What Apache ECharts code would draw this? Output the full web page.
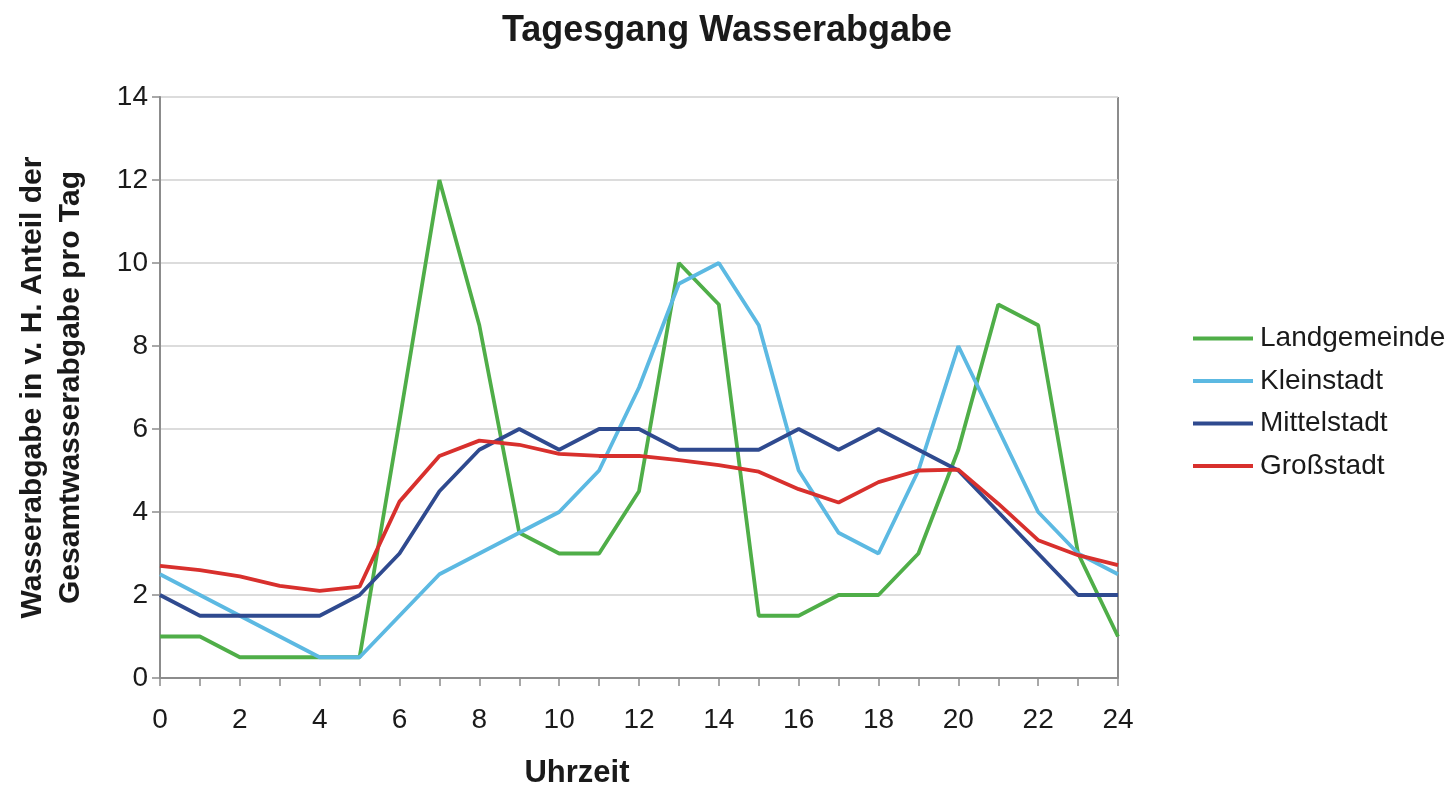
<!DOCTYPE html>
<html>
<head>
<meta charset="utf-8">
<script src="https://cdn.jsdelivr.net/npm/echarts@6/dist/echarts.min.js"></script>
<style>
  html, body { margin: 0; padding: 0; background: #fff; }
  #chart { width: 1456px; height: 785px; }
</style>
</head>
<body>
<div id="chart"></div>
<script>
// Stunden 0..24
const hours = [0, 1, 2, 3, 4, 5, 6, 7, 8, 9, 10, 11, 12, 13, 14, 15, 16, 17, 18, 19, 20, 21, 22, 23, 24];
const landgemeinde = [1, 1, 0.5, 0.5, 0.5, 0.5, 6.2, 12, 8.5, 3.5, 3, 3, 4.5, 10, 9, 1.5, 1.5, 2, 2, 3, 5.5, 9, 8.5, 3, 1];
const kleinstadt = [2.5, 2, 1.5, 1, 0.5, 0.5, 1.5, 2.5, 3, 3.5, 4, 5, 7, 9.5, 10, 8.5, 5, 3.5, 3, 5, 8, 6, 4, 3, 2.5];
const mittelstadt = [2, 1.5, 1.5, 1.5, 1.5, 2, 3, 4.5, 5.5, 6, 5.5, 6, 6, 5.5, 5.5, 5.5, 6, 5.5, 6, 5.5, 5, 4, 3, 2, 2];
const grossstadt = [2.7, 2.6, 2.45, 2.22, 2.1, 2.2, 4.25, 5.35, 5.72, 5.62, 5.4, 5.35, 5.35, 5.25, 5.13, 4.97, 4.55, 4.23, 4.72, 5.0, 5.02, 4.2, 3.32, 2.96, 2.72];

const seriesNames = ["Landgemeinde", "Kleinstadt", "Mittelstadt", "Großstadt"];
const seriesColors = ["#4fae48", "#5cb9e2", "#2f4a8f", "#d8302d"];
const seriesData = [landgemeinde, kleinstadt, mittelstadt, grossstadt];

const font = "Liberation Sans, Arial, sans-serif";

const chart = echarts.init(document.getElementById("chart"));
chart.setOption({
  animation: false,
  title: {
    text: "Tagesgang Wasserabgabe",
    left: 722,
    textAlign: "center",
    top: 8,
    textStyle: { fontFamily: font, fontSize: 36, fontWeight: "bold", color: "#1a1a1a" }
  },
  legend: {
    orient: "vertical",
    left: 1188,
    top: 318,
    itemWidth: 60,
    itemHeight: 4,
    itemGap: 11.5,
    icon: "rect",
    data: seriesNames,
    textStyle: { fontFamily: font, fontSize: 28, lineHeight: 31, color: "#1a1a1a", padding: [0, 0, 0, 2] }
  },
  grid: { left: 160, right: 338, top: 97, bottom: 107, containLabel: false, outerBoundsMode: "none" },
  xAxis: {
    type: "value",
    min: 0,
    max: 24,
    interval: 1,
    name: "Uhrzeit",
    nameLocation: "middle",
    nameGap: 80,
    nameTextStyle: { fontFamily: font, fontSize: 31, fontWeight: "bold", color: "#1a1a1a", padding: [0, 124, 0, 0] },
    axisLine: { show: true, lineStyle: { color: "#8c8c8c", width: 2 } },
    axisTick: { show: true, length: 8, lineStyle: { color: "#8c8c8c", width: 1.5 } },
    axisLabel: {
      margin: 28,
      fontFamily: font, fontSize: 28, color: "#1a1a1a",
      formatter: v => (v % 2 === 0 ? String(v) : "")
    },
    splitLine: { show: false }
  },
  yAxis: {
    type: "value",
    min: 0,
    max: 14,
    interval: 2,
    name: "Wasserabgabe in v. H. Anteil der\nGesamtwasserabgabe pro Tag",
    nameLocation: "middle",
    nameRotate: 90,
    nameGap: 70,
    nameTextStyle: { fontFamily: font, fontSize: 30, fontWeight: "bold", color: "#1a1a1a", lineHeight: 38 },
    axisLine: { show: true, lineStyle: { color: "#8c8c8c", width: 2 } },
    axisTick: { show: true, length: 8, lineStyle: { color: "#8c8c8c", width: 1.5 } },
    axisLabel: { margin: 12, fontFamily: font, fontSize: 28, color: "#1a1a1a" },
    splitLine: { show: true, lineStyle: { color: "#d0d0d0", width: 1.5 } }
  },
  graphic: [{
    type: "line",
    shape: { x1: 1118, y1: 97, x2: 1118, y2: 678 },
    style: { stroke: "#8c8c8c", lineWidth: 2 }
  }],
  series: seriesNames.map((name, i) => ({
    name: name,
    type: "line",
    data: hours.map((h, j) => [h, seriesData[i][j]]),
    showSymbol: false,
    symbol: "none",
    color: seriesColors[i],
    lineStyle: { width: 3.8, color: seriesColors[i] }
  }))
});
</script>
</body>
</html>
